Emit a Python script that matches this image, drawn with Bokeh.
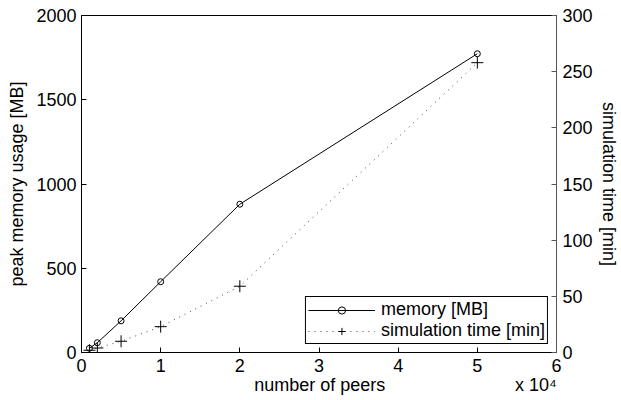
from bokeh.plotting import figure
from bokeh.models import Range1d, LinearAxis, FixedTicker
from bokeh.embed import file_html
from bokeh.resources import INLINE

peers = [1000, 2000, 5000, 10000, 20000, 50000]
memory_mb = [25, 58, 188, 420, 880, 1773]
sim_time_min = [2, 4, 10, 23, 59, 258]
x_ticks = [0, 10000, 20000, 30000, 40000, 50000, 60000]
x_tick_labels = ["0", "1", "2", "3", "4", "5", "6"]
left_ticks = [0, 500, 1000, 1500, 2000]
right_ticks = [0, 50, 100, 150, 200, 250, 300]
x_title = "number of peers"
x_multiplier = "x 10\u2074"

FONT = "Liberation Sans"
FS = "18px"

p = figure(width=621, height=400, x_range=Range1d(0, 60000), y_range=Range1d(0, 2000),
           output_backend="svg", toolbar_location=None,
           min_border_left=81, min_border_right=60, min_border_top=15, min_border_bottom=48)
p.extra_y_ranges = {"time": Range1d(0, 300)}
p.xgrid.visible = False
p.ygrid.visible = False
p.outline_line_color = "black"
p.outline_line_alpha = 1.0
p.background_fill_color = "white"
p.border_fill_color = "white"

def style(ax, color="black"):
    ax.axis_line_color = color
    ax.major_tick_line_color = color
    ax.major_tick_in = 5
    ax.major_tick_out = 0
    ax.minor_tick_line_color = None
    ax.major_label_text_font = FONT
    ax.major_label_text_font_size = FS
    ax.major_label_text_color = "black"
    ax.axis_label_text_font = FONT
    ax.axis_label_text_font_size = FS
    ax.axis_label_text_font_style = "normal"
    ax.axis_label_text_color = "black"

xa = p.xaxis[0]
style(xa)
xa.ticker = FixedTicker(ticks=x_ticks)
xa.major_label_overrides = {t: l for t, l in zip(x_ticks, x_tick_labels)}
xa.major_label_standoff = 6

# second row below the tick labels: axis title and the x 10^4 multiplier
xt = LinearAxis()
style(xt)
xt.axis_line_color = None
xt.major_tick_line_color = None
xt.major_tick_in = 0
title_pos = 30100
mult_pos = 57400
xt.ticker = FixedTicker(ticks=[title_pos, mult_pos])
xt.major_label_overrides = {title_pos: x_title, mult_pos: x_multiplier}
xt.major_label_standoff = 0
p.add_layout(xt, "below")

ya = p.yaxis[0]
style(ya)
ya.ticker = FixedTicker(ticks=left_ticks)
ya.axis_label = "peak memory usage [MB]"
ya.major_label_standoff = 5
ya.axis_label_standoff = 6

ra = LinearAxis(y_range_name="time", axis_label="simulation time [min]")
style(ra, "#555555")
ra.ticker = FixedTicker(ticks=right_ticks)
ra.major_label_standoff = 6
ra.axis_label_standoff = 3
p.add_layout(ra, "right")

p.line(peers, memory_mb, color="black", line_width=1, legend_label="memory [MB]")
p.scatter(peers, memory_mb, marker="circle", size=6, fill_color=None, line_color="black",
          line_width=1, legend_label="memory [MB]")
p.line(peers, sim_time_min, y_range_name="time", color="#444444", line_width=1,
       line_dash="1 5", legend_label="simulation time [min]")
p.scatter(peers, sim_time_min, y_range_name="time", marker="cross", size=12,
          line_color="black", line_width=1, legend_label="simulation time [min]")

lg = p.legend[0]
lg.location = "bottom_right"
lg.margin = 8
lg.border_line_color = "black"
lg.border_line_width = 1
lg.border_line_alpha = 1.0
lg.background_fill_alpha = 1.0
lg.label_text_font = FONT
lg.label_text_font_size = FS
lg.label_text_color = "black"
lg.glyph_width = 67
lg.glyph_height = 18
lg.label_height = 18
lg.label_standoff = 6
lg.padding = 2
lg.spacing = 0

open("out.html", "w").write(file_html(p, INLINE))
